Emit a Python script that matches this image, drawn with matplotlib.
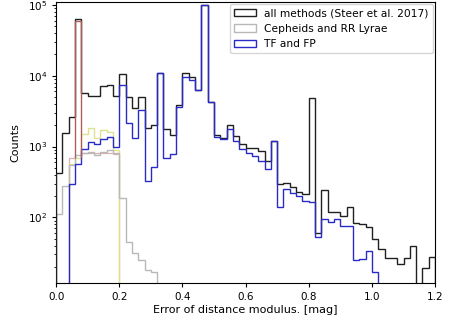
import numpy as np
import matplotlib
matplotlib.use("Agg")
import matplotlib.pyplot as plt

# bin edges: 0.00 .. 1.20 step 0.02
bin_width = 0.02
edges = np.round(np.arange(0, 1.2 + 1e-9, bin_width), 2)

all_methods = [430, 1550, 2600, 63000, 5700, 5250, 5100, 7100, 7400, 5100,
               10700, 5000, 3500, 5000, 1840, 2000, 10900, 1740, 1440, 3800,
               10900, 9500, 6200, 100000, 4300, 1450, 1330, 2000, 1420, 1080,
               965, 965, 870, 630, 1200, 300, 310, 270, 225, 215,
               4900, 60, 245, 120, 118, 105, 140, 82, 80, 72,
               50, 36, 27, 27, 22, 27, 40, 0, 19, 28]

tf_fp = [0, 0, 300, 560, 910, 1150, 1080, 1260, 1350, 1000,
         7300, 2150, 1330, 3300, 330, 510, 10900, 700, 780, 3600,
         9500, 8700, 6200, 100000, 4200, 1360, 1260, 1750, 1200, 910,
         820, 740, 630, 480, 1200, 140, 250, 220, 200, 170,
         165, 52, 95, 85, 95, 75, 75, 25, 26, 33,
         17, 0, 0, 0, 0, 0, 0, 0, 0, 0]

cepheids = [110, 280, 550, 750, 800, 850, 750, 850, 900, 800,
            190, 45, 31, 25, 18, 17] + [0] * 44

other_red = [0, 0, 700, 60000, 820, 820, 820, 820, 820, 780] + [0] * 50
other_yellow = [0, 0, 560, 700, 1500, 1800, 1300, 1700, 1600, 900] + [0] * 50

fig = plt.figure(figsize=(4.49, 3.21), dpi=100)
ax = fig.add_axes([0.125, 0.118, 0.844, 0.876])

centers = edges[:-1]
ax.hist(centers, bins=edges, weights=other_red, histtype='step',
        color='#dcb0b0', lw=0.9, label='_nolegend_', zorder=1)
ax.hist(centers, bins=edges, weights=other_yellow, histtype='step',
        color='#dde290', lw=1.0, label='_nolegend_', zorder=2)
ax.hist(centers, bins=edges, weights=cepheids, histtype='step',
        color='#b8b8b8', lw=1.0, label='Cepheids and RR Lyrae', zorder=2)
ax.hist(centers, bins=edges, weights=all_methods, histtype='step',
        color='#202020', lw=1.0, label='all methods (Steer et al. 2017)', zorder=3)
ax.hist(centers, bins=edges, weights=tf_fp, histtype='step',
        color='#2a2ac8', lw=1.0, label='TF and FP', zorder=4)
# red spike edges shown over the black outline
ax.stairs(other_red[3:4], edges[3:5], baseline=other_red[2],
          color='#b05a5a', lw=0.9, zorder=5)

ax.set_yscale('log')
ax.set_xlim(0, 1.2)
ax.set_ylim(11.8, 1.1e5)
ax.set_xticks([0.0, 0.2, 0.4, 0.6, 0.8, 1.0, 1.2])
ax.set_xticklabels(['0.0', '0.2', '0.4', '0.6', '0.8', '1.0', '1.2'])
ax.tick_params(labelsize=7.5, length=3)
ax.tick_params(which='minor', length=1.5)
ax.set_xlabel('Error of distance modulus. [mag]', fontsize=8, labelpad=2)
ax.set_ylabel('Counts', fontsize=8, labelpad=5)

handles, labels = ax.get_legend_handles_labels()
order = [labels.index('all methods (Steer et al. 2017)'),
         labels.index('Cepheids and RR Lyrae'),
         labels.index('TF and FP')]
ax.legend([handles[i] for i in order], [labels[i] for i in order],
          loc='upper right', fontsize=7.7, frameon=True, borderaxespad=0.2)

fig.savefig('out.png', dpi=100)
